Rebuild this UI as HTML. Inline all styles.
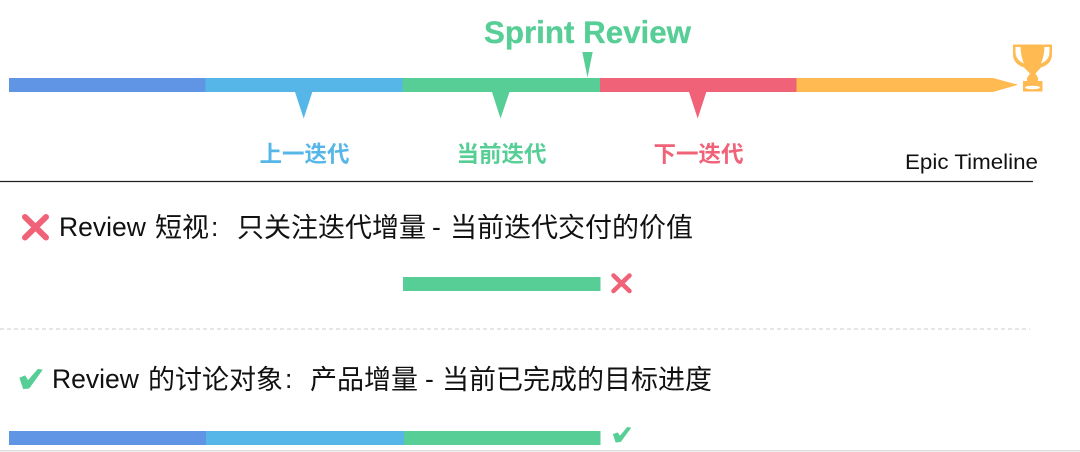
<!DOCTYPE html>
<html><head><meta charset="utf-8">
<style>
html,body{margin:0;padding:0;background:#fff;width:1080px;height:452px;overflow:hidden}
svg{display:block}
text{font-family:"Liberation Sans","Noto Sans CJK SC",sans-serif}
</style></head><body>
<svg width="1080" height="452" viewBox="0 0 1080 452" xmlns="http://www.w3.org/2000/svg">
<rect x="9" y="78" width="196.500" height="14" fill="#6095E5"/>
<rect x="205.500" y="78" width="197" height="14" fill="#57B6E8"/>
<rect x="402.500" y="78" width="197.500" height="14" fill="#56CE95"/>
<rect x="600" y="78" width="196.500" height="14" fill="#F06277"/>
<polygon points="796.500,78 993,78 1018,84.800 993,92 796.500,92" fill="#FFBA52"/>
<polygon points="295,92 312.300,92 303.700,118.500" fill="#57B6E8"/>
<polygon points="492,92 509.500,92 500.500,118.500" fill="#56CE95"/>
<polygon points="689,92 706.300,92 697.700,118.500" fill="#F06277"/>
<polygon points="582.300,52 592.700,52 587.500,77.500" fill="#56CE95"/>
<path d="M1013 44.500H1052V54Q1052 64 1041 67.500L1035.500 73.500L1038 78V81H1042.500V91.500H1023V81H1027V78L1030 73.500L1024 67.500Q1013 64 1013 54Z" fill="#FFBA52"/>
<path d="M1015.500 47H1020.500Q1021 57 1024 63.500Q1015.500 60 1015.500 52Z" fill="#fff"/>
<path d="M1049.500 47H1044.500Q1044 57 1041 63.500Q1049.500 60 1049.500 52Z" fill="#fff"/>
<ellipse cx="1032.500" cy="87.500" rx="7.500" ry="1.800" fill="#fff"/>
<text x="484" y="43" font-size="31.500" font-weight="700" fill="#56CE95" stroke="#56CE95" stroke-width="0.300" textLength="207" lengthAdjust="spacingAndGlyphs">Sprint Review</text>
<text x="259.500" y="162" font-size="22.500" font-weight="700" fill="#57B6E8">上一迭代</text>
<text x="456.500" y="162" font-size="22.500" font-weight="700" fill="#56CE95">当前迭代</text>
<text x="653.500" y="162" font-size="22.500" font-weight="700" fill="#F06277">下一迭代</text>
<text x="905" y="169" font-size="21" fill="#111" textLength="133" lengthAdjust="spacingAndGlyphs">Epic Timeline</text>
<line x1="0" y1="181.500" x2="1033" y2="181.500" stroke="#222" stroke-width="1.200"/>
<path d="M25 217L46 237.500M46 217L25 237.500" stroke="#F06277" stroke-width="6" stroke-linecap="round" fill="none"/>
<g fill="#111">
<text x="59" y="236" font-size="26.500">Review</text>
<text x="155" y="237" font-size="27">短视</text>
<text x="211" y="236" font-size="26.500">:</text>
<text x="237" y="237" font-size="27">只关注迭代增量</text>
<text x="432" y="236" font-size="26.500">-</text>
<text x="450" y="237" font-size="27">当前迭代交付的价值</text>
<text x="52" y="388" font-size="26.500">Review</text>
<text x="148" y="389" font-size="27">的讨论对象</text>
<text x="285" y="388" font-size="26.500">:</text>
<text x="310" y="389" font-size="27">产品增量</text>
<text x="425" y="388" font-size="26.500">-</text>
<text x="442" y="389" font-size="27">当前已完成的目标进度</text>
</g>
<rect x="403" y="277" width="197.500" height="14" fill="#56CE95"/>
<path d="M613.500 275.500L629.500 291M629.500 275.500L613.500 291" stroke="#F06277" stroke-width="4.500" stroke-linecap="round" fill="none"/>
<line x1="0" y1="329" x2="1030" y2="329" stroke="#ccc" stroke-width="1" stroke-dasharray="4 3"/>
<polygon points="20,378 25,376 28,381 38,369.500 42,370 29,388 23.500,388.500" fill="#56CE95" stroke="#56CE95" stroke-width="1" stroke-linejoin="round"/>
<rect x="9" y="431" width="197" height="14" fill="#6095E5"/>
<rect x="206" y="431" width="198" height="14" fill="#57B6E8"/>
<rect x="404" y="431" width="196.500" height="14" fill="#56CE95"/>
<polygon points="613.500,434.500 617.500,433 620,436.500 627.500,427.500 630.500,428 620.500,441.500 616,442" fill="#56CE95" stroke="#56CE95" stroke-width="1" stroke-linejoin="round"/>
<rect x="0" y="450" width="1080" height="1.500" fill="#ddd"/>
</svg>
</body></html>
